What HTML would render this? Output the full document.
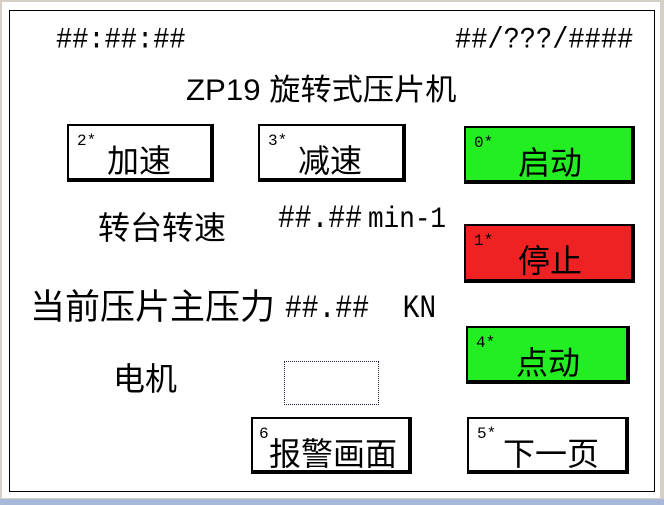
<!DOCTYPE html>
<html><head><meta charset="utf-8"><style>
body{margin:0;width:664px;height:505px;background:#d4d0c8;position:relative;overflow:hidden;font-family:"Liberation Sans","Noto Sans CJK SC",sans-serif;}
.scr{position:absolute;left:2px;top:2px;width:658px;height:496px;background:#fff;}
.frame{position:absolute;left:9px;top:10px;width:644px;height:480px;border:1px solid #000;}
.bar{position:absolute;left:0;top:499px;width:664px;height:6px;background:#a8b8d8;}
.t{position:absolute;color:#000;white-space:nowrap;line-height:1;}
.b{position:absolute;box-sizing:border-box;border:2px solid #000;border-right-width:4px;border-bottom-width:4px;background:#fff;}
.b .s{position:absolute;left:8px;top:6px;font-size:16px;font-family:'Liberation Mono',monospace;}
.b .m{position:absolute;font-size:32px;top:10px;}
.m1{font-family:'Liberation Mono',monospace;}
</style></head><body>
<div class="scr"></div>
<div class="frame"></div>
<div class="bar"></div>
<div class="t m1" style="left:56px;top:28px;font-size:27px;transform:scaleY(1.1)">##:##:##</div>
<div class="t m1" style="left:455px;top:28px;font-size:27px;transform:scaleY(1.1)">##/???/####</div>
<div class="t" style="left:186px;top:76px;font-size:30px;transform:scaleX(1.04);transform-origin:left">ZP19 旋转式压片机</div>

<div class="b" style="left:67px;top:124px;width:147px;height:58px"><span class="s">2*</span><span class="m" style="left:38px">加速</span></div>
<div class="b" style="left:258px;top:124px;width:148px;height:58px"><span class="s">3*</span><span class="m" style="left:38px">减速</span></div>
<div class="b" style="left:464px;top:126px;width:171px;height:58px;background:#22ee22"><span class="s">0*</span><span class="m" style="left:52px">启动</span></div>
<div class="b" style="left:464px;top:224px;width:171px;height:59px;background:#ee2222"><span class="s">1*</span><span class="m" style="left:52px">停止</span></div>
<div class="b" style="left:466px;top:326px;width:164px;height:58px;background:#22ee22"><span class="s">4*</span><span class="m" style="left:48px">点动</span></div>
<div class="b" style="left:251px;top:417px;width:161px;height:57px"><span class="s" style="left:6px">6</span><span class="m" style="left:16px">报警画面</span></div>
<div class="b" style="left:467px;top:417px;width:162px;height:57px"><span class="s">5*</span><span class="m" style="left:34px">下一页</span></div>

<div class="t" style="left:98px;top:212px;font-size:32px">转台转速</div>
<div class="t m1" style="left:278px;top:206px;font-size:28px;transform:scaleY(1.15)">##.##<span style="font-size:26px;margin-left:6px">min-1</span></div>
<div class="t" style="left:30px;top:290px;font-size:35px;">当前压片主压力</div>
<div class="t m1" style="left:285px;top:296px;font-size:28px;transform:scaleY(1.15)">##.## &nbsp;KN</div>
<div class="t" style="left:113px;top:363px;font-size:32px">电机</div>
<div style="position:absolute;left:284px;top:361px;width:93px;height:42px;border:1px dotted #224;"></div>
</body></html>
